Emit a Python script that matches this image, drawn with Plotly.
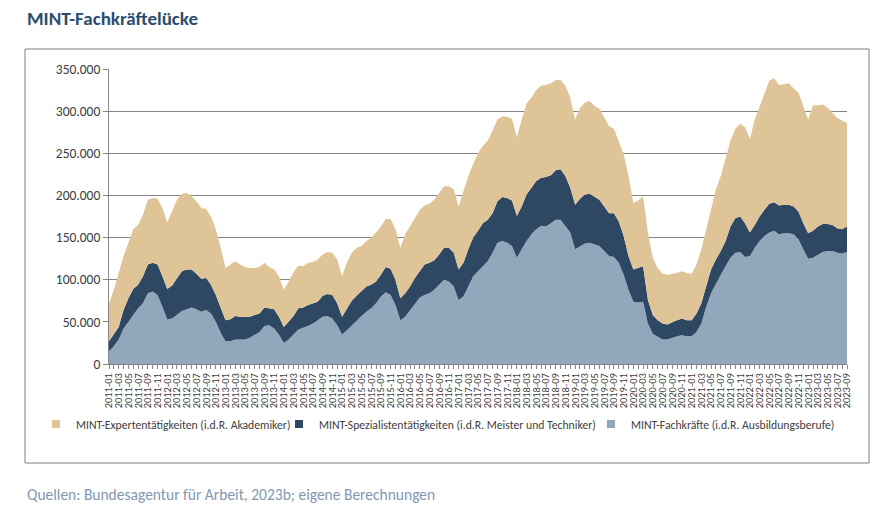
import plotly.graph_objects as go

# Month labels 2011-01 .. 2023-09
months = [f"{y}-{m:02d}" for y in range(2011, 2024) for m in range(1, 13)][:153]

# Values in thousands
fachkraefte = [15, 21, 29, 42, 50, 58, 66, 72, 84, 86, 82, 68, 53, 54, 58, 63, 65, 67, 65, 62,
               64, 60, 50, 37, 27, 27, 29, 29, 29, 31, 35, 38, 45, 46, 42, 35, 25, 29, 35, 41,
               43, 45, 48, 52, 56, 57, 54, 46, 35, 40, 46, 52, 57, 62, 66, 72, 80, 85, 82, 70,
               52, 56, 64, 72, 79, 82, 84, 88, 94, 100, 98, 92, 76, 80, 92, 104, 110, 116, 122, 132,
               144, 146, 144, 140, 126, 136, 146, 154, 160, 164, 163, 167, 171, 171, 163, 156, 136, 140, 143, 144,
               142, 140, 134, 128, 127, 120, 106, 88, 74, 73, 74, 48, 36, 33, 29, 29, 31, 33, 34, 33,
               33, 38, 48, 68, 84, 96, 106, 116, 126, 132, 133, 127, 128, 138, 146, 152, 156, 158, 154, 155,
               155, 154, 148, 136, 125, 126, 130, 133, 134, 134, 132, 131, 133]

spezialisten = [12, 14, 15, 22, 28, 31, 28, 32, 34, 34, 36, 36, 36, 39, 44, 47, 47, 45, 42, 39,
                38, 34, 32, 29, 25, 26, 28, 27, 27, 25, 23, 22, 22, 20, 23, 21, 19, 21, 22, 25,
                24, 25, 24, 22, 25, 26, 28, 26, 21, 26, 29, 29, 29, 30, 28, 26, 26, 30, 31, 30,
                26, 28, 28, 30, 31, 36, 36, 35, 36, 38, 40, 40, 36, 40, 44, 46, 48, 51, 49, 47,
                49, 52, 53, 54, 50, 51, 55, 55, 57, 57, 59, 57, 59, 60, 60, 53, 53, 56, 58, 58,
                57, 55, 53, 51, 52, 49, 46, 40, 38, 41, 42, 28, 22, 19, 19, 18, 19, 19, 20, 19,
                19, 22, 24, 24, 28, 28, 28, 30, 37, 41, 42, 40, 28, 27, 29, 31, 34, 34, 34, 34,
                34, 33, 33, 31, 30, 32, 33, 33, 32, 31, 29, 29, 30]

experten = [45, 53, 64, 64, 66, 71, 71, 73, 77, 77, 78, 81, 79, 88, 93, 92, 91, 87, 86, 84,
            82, 81, 78, 72, 62, 65, 65, 62, 59, 58, 56, 55, 53, 49, 47, 48, 44, 48, 52, 51,
            49, 50, 49, 50, 49, 50, 50, 52, 48, 54, 57, 57, 54, 54, 56, 58, 57, 57, 59, 60,
            60, 70, 71, 71, 73, 70, 70, 72, 73, 73, 73, 75, 75, 85, 87, 87, 92, 92, 94, 98,
            97, 96, 96, 97, 93, 103, 108, 107, 108, 109, 109, 109, 107, 106, 107, 107, 101, 108, 109, 110,
            107, 108, 105, 103, 100, 94, 97, 95, 79, 80, 83, 80, 68, 62, 59, 59, 57, 56, 56, 56,
            55, 58, 64, 68, 71, 83, 89, 97, 102, 106, 110, 114, 111, 125, 131, 139, 146, 147, 143, 143,
            144, 140, 141, 139, 135, 149, 144, 142, 138, 133, 131, 129, 123]

series = [
    ("MINT-Fachkräfte (i.d.R. Ausbildungsberufe)", fachkraefte, "#93A7BC", "legend3"),
    ("MINT-Spezialistentätigkeiten (i.d.R. Meister und Techniker)", spezialisten, "#2E4864", "legend2"),
    ("MINT-Expertentätigkeiten (i.d.R. Akademiker)", experten, "#DFC497", "legend"),
]

xidx = list(range(len(months)))
FONT = "Carlito, Lato, 'Open Sans', sans-serif"

fig = go.Figure()
for name, vals, col, lg in series:
    fig.add_trace(go.Scatter(
        x=xidx, y=[v * 1000 for v in vals], name=name, mode="lines",
        stackgroup="one", line=dict(width=0, color=col), fillcolor=col,
        hoverinfo="skip", showlegend=False,
    ))
# legend entries (small squares like the original)
for name, vals, col, lg in series:
    fig.add_trace(go.Scatter(
        x=[None], y=[None], name=name, mode="markers", legend=lg,
        marker=dict(symbol="square", size=8, color=col), showlegend=True,
    ))

# page body has 8px margin; figure is shifted by (8, 8) on screen
def px(sx):
    return (sx - 109) / 738

def py(sy):
    return (364 - sy) / 295

LEG_Y = py(424)
legfont = dict(size=11.7, color="#404040", family=FONT)
legcommon = dict(orientation="h", xanchor="left", y=LEG_Y, yanchor="middle",
                 font=legfont, itemwidth=30, bgcolor="rgba(0,0,0,0)", borderwidth=0)

fig.update_layout(
    width=862, height=496,
    margin=dict(l=101, r=23, t=61, b=140),
    paper_bgcolor="white", plot_bgcolor="white",
    separators=",.",
    font=dict(family=FONT, color="#404040", size=12),
    showlegend=True,
    legend=dict(x=px(36), **legcommon),
    legend2=dict(x=px(279), **legcommon),
    legend3=dict(x=px(591), **legcommon),
    xaxis=dict(
        range=[0, len(months) - 1],
        tickmode="array", tickvals=xidx[::2], ticktext=months[::2],
        tickangle=-90, tickfont=dict(size=10.5, color="#404040"),
        showgrid=False, zeroline=False,
        showline=True, linecolor="#868686", linewidth=1,
        ticks="outside", ticklen=4, tickcolor="#868686",
        minor=dict(dtick=1, tick0=0, ticks="outside", ticklen=4, tickcolor="#868686", showgrid=False),
    ),
    yaxis=dict(
        range=[0, 350000], tick0=0, dtick=50000, tickformat=",.0f",
        showgrid=True, gridcolor="#868686", gridwidth=1,
        zeroline=False, showline=True, linecolor="#868686", linewidth=1,
        ticks="outside", ticklen=5, tickcolor="#868686",
        tickfont=dict(size=13.5, color="#404040"),
    ),
    shapes=[dict(type="rect", xref="paper", yref="paper",
                 x0=px(25), x1=px(869), y0=py(463), y1=py(49),
                 line=dict(color="#7F7F7F", width=1), fillcolor="rgba(0,0,0,0)", layer="below")],
    annotations=[
        dict(text="<b>MINT-Fachkräftelücke</b>", xref="paper", yref="paper",
             x=px(25), y=py(18), xanchor="left", yanchor="middle",
             showarrow=False, font=dict(size=19, color="#2B4C6F", family=FONT)),
        dict(text="Quellen: Bundesagentur für Arbeit, 2023b; eigene Berechnungen", xref="paper", yref="paper",
             x=px(25), y=py(494), xanchor="left", yanchor="middle",
             showarrow=False, font=dict(size=15.5, color="#8497B0", family=FONT)),
    ],
)

fig.write_html("out.html")
